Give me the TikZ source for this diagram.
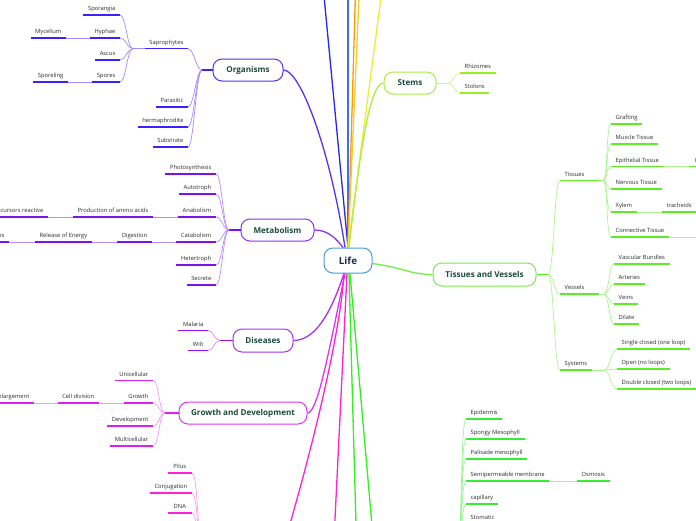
\documentclass[tikz,border=0pt]{standalone}
\usepackage{fontspec}
\setmainfont{Open Sans}
\definecolor{orgL}{HTML}{3A22FF}\definecolor{orgC}{HTML}{9C8CFF}\definecolor{orgM}{HTML}{4F35F5}
\definecolor{metL}{HTML}{7A12F0}\definecolor{metC}{HTML}{B98CFF}\definecolor{metM}{HTML}{8A35F0}
\definecolor{disL}{HTML}{A010F0}\definecolor{disC}{HTML}{D08CFF}\definecolor{disM}{HTML}{AA30F0}
\definecolor{gdL}{HTML}{DD20F0}\definecolor{gdC}{HTML}{F09CFF}\definecolor{gdM}{HTML}{DD35F0}
\definecolor{pkL}{HTML}{FF20D8}\definecolor{pkC}{HTML}{FF9CEE}\definecolor{pkM}{HTML}{FF22D0}
\definecolor{stL}{HTML}{99EE22}\definecolor{stC}{HTML}{CCF58C}\definecolor{stM}{HTML}{AAEE44}
\definecolor{tvL}{HTML}{5BEE22}\definecolor{tvC}{HTML}{AAF590}\definecolor{tvM}{HTML}{77EE44}
\definecolor{gnL}{HTML}{33EE33}\definecolor{gnC}{HTML}{99F599}\definecolor{gnM}{HTML}{33EE22}
\definecolor{lifeBd}{HTML}{4A9BD8}\definecolor{txt}{HTML}{2A2A2A}\definecolor{mtxt}{HTML}{1C4A3C}\definecolor{ltxt}{HTML}{1A2E4A}
\definecolor{topA}{HTML}{2626EE}\definecolor{topB}{HTML}{3A6CFF}\definecolor{topC}{HTML}{FF9900}\definecolor{topD}{HTML}{FFC830}\definecolor{topE}{HTML}{EEEE30}
\newcommand{\lfL}[6][]{\node[leaf,anchor=south east,#1] (#2) at (#3,#4) {#5};\draw[uline,#6] (#2.south west) -- (#2.south east);}
\newcommand{\lfR}[6][]{\node[leaf,anchor=south west,#1] (#2) at (#3,#4) {#5};\draw[uline,#6] (#2.south west) -- (#2.south east);}
\newcommand{\cnL}[3]{\draw[cline,#3] (#1) .. controls +(-\ctlk,0) and +(\ctlk,0) .. (#2.south east);}
\newcommand{\cnR}[3]{\draw[cline,#3] (#1) .. controls +(\ctlk,0) and +(-\ctlk,0) .. (#2.south west);}
\def\ctlk{6}
\begin{document}
\begin{tikzpicture}[x=1pt,y=-1pt,
 leaf/.style={font=\fontsize{5.8}{7}\selectfont, text=txt, inner xsep=4.5pt, inner ysep=4.3pt, text height=4.3pt, text depth=0pt},
 uline/.style={line width=1.5pt},
 cline/.style={line width=0.7pt},
 fline/.style={line width=0.9pt},
 stub/.style={line width=1.3pt},
 mline/.style={line width=1.3pt},
 mainbox/.style={draw, line width=1pt, rounded corners=9pt, fill=white, font=\fontsize{8.1}{10}\selectfont\bfseries, text=mtxt, minimum height=22pt, inner sep=0pt}]
\useasboundingbox (0,0) rectangle (696,520);
\clip (0,0) rectangle (696,520);
% main nodes
\node[mainbox,draw=lifeBd,minimum width=48pt,minimum height=25pt,font=\fontsize{9.8}{12}\selectfont\bfseries,text=ltxt] (life) at (348,260.5) {Life};
\node[mainbox,draw=orgM,minimum width=70pt] (org) at (248,70) {Organisms};
\node[mainbox,draw=metM,minimum width=73pt] (met) at (277.5,230) {Metabolism};
\node[mainbox,draw=disM,minimum width=60pt,minimum height=23pt] (dis) at (263,340.5) {Diseases};
\node[mainbox,draw=gdM,minimum width=128pt] (gd) at (243,413) {Growth and Development};
\node[mainbox,draw=stM,minimum width=52pt] (stems) at (410,83) {Stems};
\node[mainbox,draw=tvM,minimum width=103pt,minimum height=23pt] (tv) at (484.5,274.5) {Tissues and Vessels};
% free ends of branches leaving the picture
\coordinate (tA) at (322,-25);\coordinate (tB) at (348,-25);\coordinate (tC) at (356,-25);
\coordinate (tD) at (360,-25);\coordinate (tE) at (384,-25);
\coordinate (bP) at (270,590);\coordinate (bM) at (333,560);\coordinate (bG1) at (357,560);\coordinate (bG2) at (375,560);
% connectors from Life
\draw[mline,topA] (life.north) -- (tA);
\draw[mline,topB] (life.north) -- (tB);
\draw[mline,topC] (life.north) -- (tC);
\draw[mline,topD] (life.north) -- (tD);
\draw[mline,topE] (life.north) -- (tE);
\draw[mline,orgM] (org.east) .. controls +(17,0) and +(-15,-98) .. ([xshift=-3pt]life.north);
\draw[mline,metM] (met.east) .. controls +(14,0) and +(-6,-8) .. ([xshift=-5pt]life.north);
\draw[mline,stM] ([xshift=1pt]life.north) .. controls (360,150) and (370,83) .. (stems.west);
\draw[mline,tvM] ([yshift=-3pt]life.east) .. controls +(30,4) and +(-22,0) .. (tv.west);
\draw[mline,disM] ([xshift=-4pt]life.south) .. controls +(-10,30) and +(25,0) .. (dis.east);
\draw[mline,gdM] ([xshift=-3pt]life.south) .. controls (330,345) and (318,413) .. (gd.east);
\draw[mline,pkM] ([xshift=-4pt]life.south) .. controls (340,340) and (305,480) .. (bP);
\draw[mline,pkM] ([xshift=-1pt]life.south) -- (bM);
\draw[mline,gnM] ([xshift=1pt]life.south) -- (bG1);
\draw[mline,gnM] ([xshift=2pt]life.south) -- (bG2);
% Organisms
\coordinate (orgB) at (202,70);
\draw[stub,orgL] (org.west) -- (orgB);
\lfL{sapro}{188}{48.7}{Saprophytes}{orgL}
\lfL{para}{188}{107}{Parasitic}{orgL}
\lfL{herm}{188}{127}{hermaphrodite}{orgL}
\lfL{subs}{188}{147}{Substrate}{orgL}
\def\ctlk{6}
\foreach \n in {sapro,para,herm,subs}{\cnL{orgB}{\n}{orgC}}
\coordinate (sapB) at (133,48.7);
\draw[cline,orgC] (sapro.south west) -- (sapB);
\lfL{spor}{120}{15}{Sporangia}{orgL}
\lfL{hyph}{120}{38}{Hyphae}{orgL}
\lfL{ascus}{120}{60}{Ascus}{orgL}
\lfL{spores}{120}{82}{Spores}{orgL}
\foreach \n in {spor,hyph,ascus,spores}{\cnL{sapB}{\n}{orgC}}
\lfL{myc}{66}{38}{Mycelium}{orgL}
\lfL{sporel}{68}{82}{Sporeling}{orgL}
\draw[fline,orgC] (hyph.south west) -- (myc.south east);
\draw[fline,orgC] (spores.south west) -- (sporel.south east);
% Metabolism
\coordinate (metB) at (229,230);
\draw[stub,metL] (met.west) -- (metB);
\lfL{photo}{216}{174}{Photosynthesis}{metL}
\lfL{auto}{216}{194}{Autotroph}{metL}
\lfL{anab}{216}{217}{Anabolism}{metL}
\lfL{catab}{216}{242}{Catabolism}{metL}
\lfL{heter}{216}{265}{Hetertroph}{metL}
\lfL{secr}{216}{285}{Secrete}{metL}
\foreach \n in {photo,auto,anab,catab,heter,secr}{\cnL{metB}{\n}{metC}}
\lfL{prod}{153}{217}{Production of amino acids}{metL}
\lfL{prec}{48}{217}{Precursors reactive}{metL}
\lfL{dig}{152}{242}{Digestion}{metL}
\lfL{rel}{92}{242}{Release of Energy}{metL}
\lfL{enz}{9}{242}{Enzymes}{metL}
\draw[fline,metC] (anab.south west) -- (prod.south east);
\draw[fline,metC] (prod.south west) -- (prec.south east);
\draw[fline,metC] (catab.south west) -- (dig.south east);
\draw[fline,metC] (dig.south west) -- (rel.south east);
\draw[fline,metC] (rel.south west) -- (enz.south east);
% Diseases
\coordinate (disB) at (220,340.5);
\draw[stub,disL] (dis.west) -- (disB);
\lfL{mal}{208}{330.5}{Malaria}{disL}
\lfL{wilt}{208}{350.5}{Wilt}{disL}
\foreach \n in {mal,wilt}{\cnL{disB}{\n}{disC}}
% Growth and Development
\coordinate (gdB) at (165,413);
\draw[stub,gdL] (gd.west) -- (gdB);
\lfL{uni}{153}{380.5}{Unicellular}{gdL}
\lfL{grow}{153}{403}{Growth}{gdL}
\lfL{dev}{153}{426}{Development}{gdL}
\lfL{multi}{153}{446}{Multicellular}{gdL}
\foreach \n in {uni,grow,dev,multi}{\cnL{gdB}{\n}{gdC}}
\lfL{celld}{99}{403}{Cell division}{gdL}
\lfL{enl}{34}{403}{Cell enlargement}{gdL}
\draw[fline,gdC] (grow.south west) -- (celld.south east);
\draw[fline,gdC] (celld.south west) -- (enl.south east);
% pink group (parent below the picture)
\coordinate (pkB) at (205,575);
\lfL[minimum width=24pt]{pilus}{192}{473}{Pilus}{pkL}
\lfL{conj}{192}{493}{Conjugation}{pkL}
\lfL[minimum width=24pt]{dna}{192}{513}{DNA}{pkL}
\def\ctlk{7}
\foreach \n in {pilus,conj,dna}{\cnL{pkB}{\n}{pkC}}
% Stems
\coordinate (stB) at (448,83);
\draw[cline,stC] (stems.east) -- (stB);
\lfR{rhiz}{460}{73}{Rhizomes}{stL}
\lfR{stol}{460}{93}{Stolons}{stL}
\def\ctlk{6}
\foreach \n in {rhiz,stol}{\cnR{stB}{\n}{stC}}
% Tissues and Vessels
\coordinate (tvB) at (548,274.5);
\draw[stub,tvL] (tv.east) -- (tvB);
\lfR[text width=30pt]{tissues}{560}{180.5}{Tissues}{tvL}
\lfR[text width=30pt]{vessels}{560}{294}{Vessels}{tvL}
\lfR{systems}{560}{370}{Systems}{tvL}
\foreach \n in {tissues,vessels,systems}{\cnR{tvB}{\n}{tvC}}
\coordinate (tisB) at (603,180.5);
\draw[cline,tvC] (tissues.south east) -- (tisB);
\lfR{graft}{611}{124}{Grafting}{tvL}
\lfR{muscle}{611}{144}{Muscle Tissue}{tvL}
\lfR{epith}{611}{166.5}{Epithelial Tissue}{tvL}
\lfR{nerv}{611}{189}{Nervous Tissue}{tvL}
\lfR{xylem}{611}{212}{Xylem}{tvL}
\lfR{conn}{611}{237}{Connective Tissue}{tvL}
\def\ctlk{5}
\foreach \n in {graft,muscle,epith,nerv,xylem,conn}{\cnR{tisB}{\n}{tvC}}
\lfR{epc}{690}{166.5}{I}{tvL}
\lfR{trach}{662}{212}{tracheids}{tvL}
\coordinate (connE) at (705,237);
\draw[fline,tvC] (epith.south east) -- (epc.south west);
\draw[fline,tvC] (xylem.south east) -- (trach.south west);
\draw[fline,tvC] (conn.south east) -- (connE);
\coordinate (vesB) at (604,294);
\draw[cline,tvC] (vessels.south east) -- (vesB);
\lfR{vasc}{614}{264}{Vascular Bundles}{tvL}
\lfR{arter}{614}{284}{Arteries}{tvL}
\lfR{veins}{614}{304}{Veins}{tvL}
\lfR{dilate}{614}{324}{Dilate}{tvL}
\foreach \n in {vasc,arter,veins,dilate}{\cnR{vesB}{\n}{tvC}}
\coordinate (sysB) at (604,370);
\draw[cline,tvC] (systems.south east) -- (sysB);
\lfR{single}{617}{349}{Single closed (one loop)}{tvL}
\lfR{open}{617}{369}{Open (no loops)}{tvL}
\lfR{double}{617}{389}{Double closed (two loops)}{tvL}
\def\ctlk{6}
\foreach \n in {single,open,double}{\cnR{sysB}{\n}{tvC}}
% green group (parent below the picture)
\coordinate (gnB) at (456,575);
\lfR{epid}{466}{419}{Epidermis}{gnL}
\lfR{spongy}{466}{439}{Spongy Mesophyll}{gnL}
\lfR{palis}{466}{459}{Palisade mesophyll}{gnL}
\lfR{semi}{466}{481}{Semipermeable membrane}{gnL}
\lfR{capil}{466}{504}{capillary}{gnL}
\lfR{stom}{466}{524}{Stomatic}{gnL}
\foreach \n in {epid,spongy,palis,semi,capil,stom}{\cnR{gnB}{\n}{gnC}}
\lfR{osm}{577}{481}{Osmosis}{gnL}
\draw[fline,gnC] (semi.south east) -- (osm.south west);
\end{tikzpicture}
\end{document}
